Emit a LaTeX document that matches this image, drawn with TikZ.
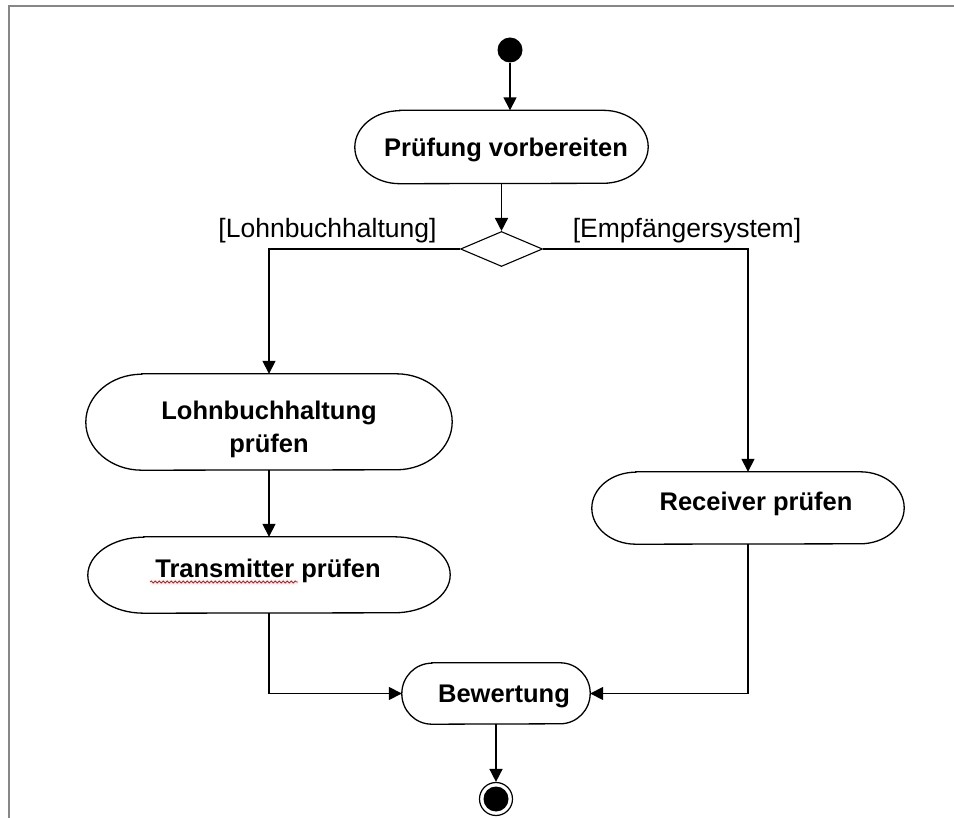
\documentclass[tikz,border=0pt]{standalone}
\usepackage{fontspec}
\setmainfont{Liberation Sans}
\usetikzlibrary{arrows.meta,decorations.pathmorphing,calc,shapes.geometric}
\definecolor{framegray}{RGB}{135,135,135}
\newcommand{\actoutline}[3]{%
  \draw[actline] ($(#1.north west)+(#2,0)$) -- ($(#1.north east)+(-#2,0)$)
    arc[start angle=90,end angle=-90,x radius=#2,y radius=#3]
    -- ($(#1.south west)+(#2,0)$)
    arc[start angle=270,end angle=90,x radius=#2,y radius=#3] -- cycle;}
\tikzset{
  actbox/.style={rectangle, draw=none, inner sep=0pt},
  actline/.style={line width=1.3pt, black},
  acttext/.style={anchor=base, inner sep=0pt, font=\bfseries\fontsize{25.5}{30}\selectfont},
  guardtext/.style={anchor=base, inner sep=0pt, font=\fontsize{26.5}{30}\selectfont},
  flow/.style={line width=1.6pt, -{Triangle[width=13pt,length=13pt]}},
}
\begin{document}
\begin{tikzpicture}[x=1pt,y=1pt]
\useasboundingbox (0,0) rectangle (954,-818);
% frame
\draw[framegray, line width=2.5pt] (954,-6) -- (9,-6) -- (9,-818);
% start
\node[circle, fill=black, inner sep=0pt, minimum size=25pt] (start) at (510,-50) {};
% activities
\node[actbox, minimum width=293pt, minimum height=73pt] (prf) at (501.5,-147) {};
\actoutline{prf}{45}{36.5}
\node[acttext] (prft) at (506,-157) {Prüfung vorbereiten};

\node[shape=diamond, draw, line width=1.1pt, inner sep=0pt, minimum width=82pt, minimum height=35pt] (dec) at (501.5,-249) {};
\node[guardtext] (g1) at (327.5,-238) {[Lohnbuchhaltung]};
\node[guardtext] (g2) at (687,-238) {[Empfängersystem]};

\node[actbox, minimum width=366pt, minimum height=96pt] (lohn) at (269,-422) {};
\actoutline{lohn}{56}{48}
\node[acttext] (lohnt1) at (269,-420) {Lohnbuchhaltung};
\node[acttext] (lohnt2) at (269,-453) {prüfen};

\node[actbox, minimum width=362pt, minimum height=76pt] (tr) at (269,-575) {};
\actoutline{tr}{56}{38}
\node[acttext] (trt) at (268,-577) {Transmitter prüfen};
\draw[red, line width=0.8pt, decorate, decoration={snake, segment length=4pt, amplitude=1pt}] (150,-582) -- (298,-582);

\node[actbox, minimum width=312pt, minimum height=72pt] (rec) at (748,-508) {};
\actoutline{rec}{44}{36}
\node[acttext] (rect) at (756,-510) {Receiver prüfen};

\node[actbox, minimum width=188pt, minimum height=61pt] (bew) at (496,-693.5) {};
\actoutline{bew}{30}{30.5}
\node[acttext] (bewt) at (504,-702) {Bewertung};

% end
\node[circle, draw=black, line width=1.2pt, inner sep=0pt, minimum size=33pt] (end) at (496,-799) {};
\fill[black] (end.center) circle[radius=12.5];

% connectors
\draw[flow] (start) -- (start |- prf.north);
\draw[flow] (prf.south) -- (dec.north);
\draw[flow] (dec.west) -| (lohn.north);
\draw[flow] (dec.east) -| (rec.north);
\draw[flow] (lohn.south) -- (tr.north);
\draw[flow] (tr.south) |- (bew.west);
\draw[flow] (rec.south) |- (bew.east);
\draw[flow] (bew.south) -- (end.north);
\end{tikzpicture}
\end{document}
